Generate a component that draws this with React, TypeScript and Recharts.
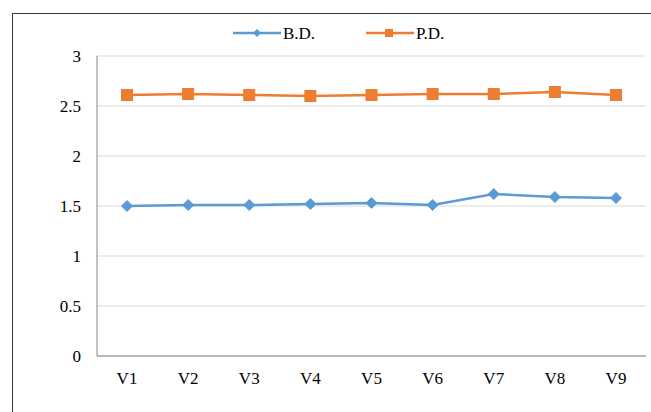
import { LineChart, Line, XAxis, YAxis, CartesianGrid } from 'recharts'

const categories = ['V1', 'V2', 'V3', 'V4', 'V5', 'V6', 'V7', 'V8', 'V9']
const bdValues = [1.5, 1.51, 1.51, 1.52, 1.53, 1.51, 1.62, 1.59, 1.58]
const pdValues = [2.61, 2.62, 2.61, 2.6, 2.61, 2.62, 2.62, 2.64, 2.61]
const yTicks = [0, 0.5, 1, 1.5, 2, 2.5, 3]

const data = categories.map((name, i) => ({ name, bd: bdValues[i], pd: pdValues[i] }))

const FONT = '"Liberation Serif", "Times New Roman", Times, serif'
const BLUE = '#5b9bd5'
const ORANGE = '#ed7d31'

function Diamond({ cx, cy }: any) {
  if (cx == null || cy == null) return null
  const r = 5.5
  return (
    <polygon
      points={`${cx},${cy - r} ${cx + r},${cy} ${cx},${cy + r} ${cx - r},${cy}`}
      fill={BLUE}
      stroke={BLUE}
    />
  )
}

function Square({ cx, cy }: any) {
  if (cx == null || cy == null) return null
  return <rect x={cx - 5.5} y={cy - 5.5} width={11} height={11} fill={ORANGE} stroke={ORANGE} />
}

// legend sits over the chart so it doesn't eat into the plot margin
function LegendBox() {
  return (
    <svg width={651} height={24} style={{ position: 'absolute', left: 0, top: 21 }}>
      <line x1={233} x2={281} y1={12} y2={12} stroke={BLUE} strokeWidth={2.5} />
      <polygon points="257,8 261,12 257,16 253,12" fill={BLUE} />
      <text x={283} y={17.5} fontFamily={FONT} fontSize={17} fill="#000">B.D.</text>
      <line x1={366} x2={414} y1={12} y2={12} stroke={ORANGE} strokeWidth={2.5} />
      <rect x={385} y={8} width={8} height={8} fill={ORANGE} />
      <text x={416} y={17.5} fontFamily={FONT} fontSize={17} fill="#000">P.D.</text>
    </svg>
  )
}

export default function App() {
  return (
    <div style={{ position: 'absolute', top: 0, left: 0, width: 651, height: 412, overflow: 'hidden', background: '#fff', fontFamily: FONT }}>
      <div
        style={{
          position: 'absolute',
          left: 12,
          top: 13,
          width: 700,
          height: 450,
          borderLeft: '1.5px solid #3a3a3a',
          borderTop: '1.5px solid #3a3a3a',
        }}
      />
      <LineChart
        width={651}
        height={412}
        data={data}
        margin={{ top: 56, right: 5, bottom: 26, left: 0 }}
      >
        <CartesianGrid vertical={false} stroke="#d9d9d9" strokeWidth={1} />
        <XAxis
          dataKey="name"
          height={30}
          stroke="#868686"
          tickLine={false}
          tickMargin={10}
          padding={{ left: 30, right: 30 }}
          tick={{ fill: '#000', fontSize: 17, fontFamily: FONT }}
        />
        <YAxis
          width={97}
          domain={[0, 3]}
          ticks={yTicks}
          stroke="#868686"
          tickLine={false}
          tickMargin={10}
          tick={{ fill: '#000', fontSize: 17, fontFamily: FONT }}
        />
        <Line
          dataKey="bd"
          name="B.D."
          stroke={BLUE}
          strokeWidth={2.5}
          dot={<Diamond />}
          activeDot={false}
          isAnimationActive={false}
        />
        <Line
          dataKey="pd"
          name="P.D."
          stroke={ORANGE}
          strokeWidth={2.5}
          dot={<Square />}
          activeDot={false}
          isAnimationActive={false}
        />
      </LineChart>
      <LegendBox />
    </div>
  )
}
